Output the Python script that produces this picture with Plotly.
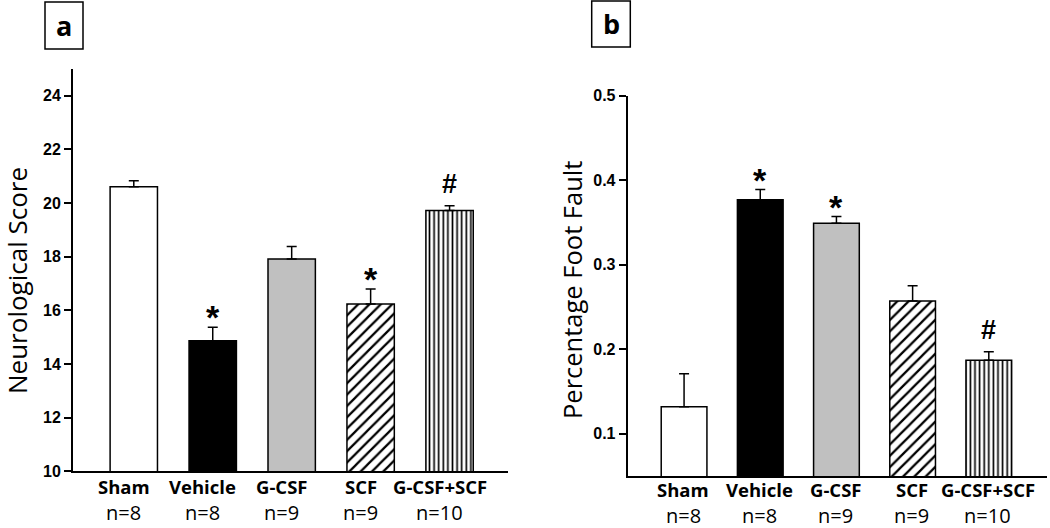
import plotly.graph_objects as go

# ---- data ----
categories = ["Sham", "Vehicle", "G-CSF", "SCF", "G-CSF+SCF"]
n_labels = ["n=8", "n=8", "n=9", "n=9", "n=10"]
neuro_mean = [20.61, 14.87, 17.92, 16.24, 19.72]
neuro_err = [0.22, 0.50, 0.46, 0.56, 0.18]
foot_mean = [0.132, 0.377, 0.349, 0.257, 0.187]
foot_err = [0.039, 0.012, 0.008, 0.018, 0.010]
neuro_sig = ["", "*", "", "*", "#"]
foot_sig = ["", "*", "*", "", "#"]

W, H = 1050, 528

def px_x(p):
    return p / W

def px_y(p):
    return 1 - p / H

fills = ["white", "black", "#c0c0c0", "white", "white"]
shapes_pat = ["", "", "", "/", "|"]
sizes_pat = [8, 8, 8, 8, 4.6]
solid_pat = [0.3, 0.3, 0.3, 0.28, 0.36]

fig = go.Figure()

def add_bars(means, errs, xa, ya):
    for i in range(len(categories)):
        marker = dict(color=fills[i], line=dict(color="black", width=1.5))
        if shapes_pat[i]:
            marker["pattern"] = dict(shape=shapes_pat[i], size=sizes_pat[i],
                                     solidity=solid_pat[i], fgcolor="black",
                                     bgcolor="white", fillmode="replace")
        fig.add_trace(go.Bar(
            x=[i], y=[means[i]],
            width=0.6,
            marker=marker,
            error_y=dict(type="data", array=[errs[i]], arrayminus=[0],
                         symmetric=False, color="black", thickness=1.5, width=5),
            xaxis=xa, yaxis=ya, showlegend=False, hoverinfo="skip",
        ))

add_bars(neuro_mean, neuro_err, "x", "y")
add_bars(foot_mean, foot_err, "x2", "y2")

tickfont = dict(family="Liberation Sans, Arial", size=16, color="black")

fig.update_layout(
    width=W, height=H,
    margin=dict(l=0, r=0, t=0, b=0),
    paper_bgcolor="white", plot_bgcolor="white",
    template="none",
    barmode="overlay",
    xaxis=dict(domain=[px_x(73), px_x(508)], range=[-0.77, 4.74],
               showticklabels=False, ticks="", showgrid=False, zeroline=False,
               showline=True, linecolor="black", linewidth=2),
    yaxis=dict(domain=[px_y(471.3), px_y(69)], range=[10, 25],
               tickvals=[10, 12, 14, 16, 18, 20, 22, 24],
               ticktext=["<b>%d</b>" % v for v in [10, 12, 14, 16, 18, 20, 22, 24]],
               ticks="outside", ticklen=7, tickwidth=1.5, tickcolor="black",
               tickfont=tickfont, showgrid=False, zeroline=False,
               showline=True, linecolor="black", linewidth=2),
    xaxis2=dict(domain=[px_x(627.7), px_x(1046.7)], range=[-0.74, 4.76],
                showticklabels=False, ticks="", showgrid=False, zeroline=False,
                showline=True, linecolor="black", linewidth=2, anchor="y2"),
    yaxis2=dict(domain=[px_y(476), px_y(95.7)], range=[0.05, 0.5],
                tickvals=[0.1, 0.2, 0.3, 0.4, 0.5],
                ticktext=["<b>%.1f</b>" % v for v in [0.1, 0.2, 0.3, 0.4, 0.5]],
                ticks="outside", ticklen=7, tickwidth=1.5, tickcolor="black",
                tickfont=tickfont, showgrid=False, zeroline=False,
                showline=True, linecolor="black", linewidth=2, anchor="x2"),
)

ann = []
catfont = dict(family="Open Sans", size=18.5, color="black")
nfont = dict(family="Open Sans", size=20, color="black")
for i, (c, n) in enumerate(zip(categories, n_labels)):
    ann.append(dict(x=i, y=px_y(486), xref="x", yref="paper", text="<b>%s</b>" % c,
                    showarrow=False, font=catfont, xshift=-10, yanchor="middle"))
    ann.append(dict(x=i, y=px_y(512), xref="x", yref="paper", text=n,
                    showarrow=False, font=nfont, xshift=-10, yanchor="middle"))
    ann.append(dict(x=i, y=px_y(489), xref="x2", yref="paper", text="<b>%s</b>" % c,
                    showarrow=False, font=catfont, xshift=-1, yanchor="middle"))
    ann.append(dict(x=i, y=px_y(515.7), xref="x2", yref="paper", text=n,
                    showarrow=False, font=nfont, xshift=-1, yanchor="middle"))

sigfont_star = dict(family="Liberation Sans, Arial", size=34, color="black")
sigfont_hash = dict(family="Liberation Sans, Arial", size=27, color="black")

def add_sig(sigs, means, errs, xr, yr):
    for i, s in enumerate(sigs):
        if not s:
            continue
        top = means[i] + errs[i]
        if s == "*":
            ann.append(dict(x=i, y=top, xref=xr, yref=yr, text="<b>*</b>",
                            showarrow=False, font=sigfont_star, yanchor="middle", yshift=10))
        else:
            ann.append(dict(x=i, y=top, xref=xr, yref=yr, text="<b>#</b>",
                            showarrow=False, font=sigfont_hash, yanchor="middle", yshift=22))

add_sig(neuro_sig, neuro_mean, neuro_err, "x", "y")
add_sig(foot_sig, foot_mean, foot_err, "x2", "y2")

titlefont = dict(family="Open Sans", size=26, color="black")
ann.append(dict(x=px_x(17), y=px_y(281), xref="paper", yref="paper",
                text="Neurological Score", textangle=-90, showarrow=False,
                font=titlefont, xanchor="center", yanchor="middle"))
ann.append(dict(x=px_x(572), y=px_y(290), xref="paper", yref="paper",
                text="Percentage Foot Fault", textangle=-90, showarrow=False,
                font=dict(family="Open Sans", size=25.5, color="black"),
                xanchor="center", yanchor="middle"))

panelfont = dict(family="Open Sans", size=27, color="black")
ann.append(dict(x=px_x(64), y=px_y(25.5), xref="paper", yref="paper", text="<b>a</b>",
                showarrow=False, font=panelfont, xanchor="center", yanchor="middle"))
ann.append(dict(x=px_x(611), y=px_y(24), xref="paper", yref="paper", text="<b>b</b>",
                showarrow=False, font=panelfont, xanchor="center", yanchor="middle"))

fig.update_layout(annotations=ann, shapes=[
    dict(type="rect", xref="paper", yref="paper", x0=px_x(45), x1=px_x(83),
         y0=px_y(49), y1=px_y(2), line=dict(color="black", width=1.5)),
    dict(type="rect", xref="paper", yref="paper", x0=px_x(591.7), x1=px_x(630.3),
         y0=px_y(47), y1=px_y(1), line=dict(color="black", width=1.5)),
])

fig.write_html("out.html", config={"displayModeBar": False},
               post_script="document.body.style.margin='0';document.body.style.padding='0';")
